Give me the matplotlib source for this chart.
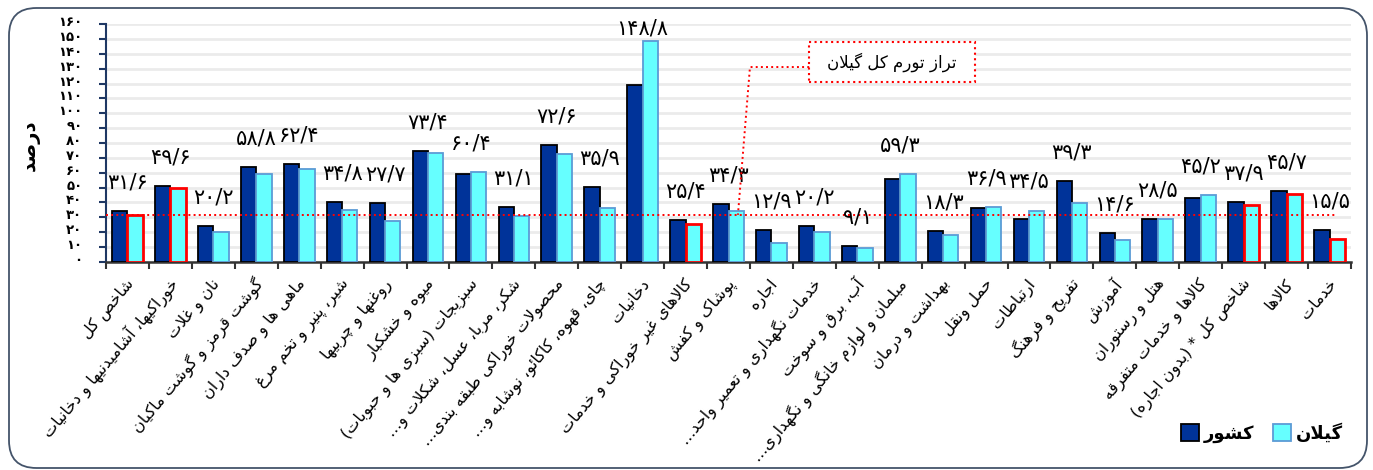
import matplotlib
matplotlib.use('Agg')
import matplotlib.pyplot as plt
import matplotlib.transforms as mtransforms
from matplotlib.patches import FancyBboxPatch, Patch, Rectangle
import numpy as np

# ---------------- data ----------------
categories = [
    'شاخص کل',
    'خوراکیها، آشامیدنیها و دخانیات',
    'نان و غلات',
    'گوشت قرمز و گوشت ماکیان',
    'ماهی ها و صدف داران',
    'شیر، پنیر و تخم مرغ',
    'روغنها و چربیها',
    'میوه و خشکبار',
    'سبزیجات (سبزی ها و حبوبات)',
    'شکر، مربا، عسل، شکلات و...',
    'محصولات خوراکی طبقه بندی...',
    'چای، قهوه، کاکائو، نوشابه و...',
    'دخانیات',
    'کالاهای غیر خوراکی و خدمات',
    'پوشاک و کفش',
    'اجاره',
    'خدمات نگهداری و تعمیر واحد...',
    'آب، برق و سوخت',
    'مبلمان و لوازم خانگی و نگهداری...',
    'بهداشت و درمان',
    'حمل ونقل',
    'ارتباطات',
    'تفریح و فرهنگ',
    'آموزش',
    'هتل و رستوران',
    'کالاها و خدمات متفرقه',
    'شاخص کل * (بدون اجاره)',
    'کالاها',
    'خدمات',
]
country = [34.4, 51.2, 23.8, 63.8, 65.8, 40.0, 39.3, 74.8, 59.3, 36.9, 78.6, 50.1,
           118.9, 27.9, 38.7, 21.4, 23.8, 10.8, 55.7, 20.9, 36.2, 29.0, 54.4, 19.3,
           29.0, 42.9, 40.4, 47.4, 21.4]
gilan = [31.6, 49.6, 20.2, 58.8, 62.4, 34.8, 27.7, 73.4, 60.4, 31.1, 72.6, 35.9,
         148.8, 25.4, 34.3, 12.9, 20.2, 9.1, 59.3, 18.3, 36.9, 34.5, 39.3, 14.6,
         28.5, 45.2, 37.9, 45.7, 15.5]
highlighted = [True, True, False, False, False, False, False, False, False, False,
               False, False, False, True, False, False, False, False, False, False,
               False, False, False, False, False, False, True, True, True]
gilan_total = 31.6
y_ticks = list(range(0, 161, 10))
series_names = ['کشور', 'گیلان']
ylabel_text = 'درصد'
annotation_text = 'تراز تورم کل گیلان'

# ---------------- Persian text helpers ----------------
F = {
    'ء': (0xFE80, None, None, None),
    'آ': (0xFE81, 0xFE82, None, None),
    'أ': (0xFE83, 0xFE84, None, None),
    'ؤ': (0xFE85, 0xFE86, None, None),
    'إ': (0xFE87, 0xFE88, None, None),
    'ئ': (0xFE89, 0xFE8A, 0xFE8B, 0xFE8C),
    'ا': (0xFE8D, 0xFE8E, None, None),
    'ب': (0xFE8F, 0xFE90, 0xFE91, 0xFE92),
    'ة': (0xFE93, 0xFE94, None, None),
    'ت': (0xFE95, 0xFE96, 0xFE97, 0xFE98),
    'ث': (0xFE99, 0xFE9A, 0xFE9B, 0xFE9C),
    'ج': (0xFE9D, 0xFE9E, 0xFE9F, 0xFEA0),
    'ح': (0xFEA1, 0xFEA2, 0xFEA3, 0xFEA4),
    'خ': (0xFEA5, 0xFEA6, 0xFEA7, 0xFEA8),
    'د': (0xFEA9, 0xFEAA, None, None),
    'ذ': (0xFEAB, 0xFEAC, None, None),
    'ر': (0xFEAD, 0xFEAE, None, None),
    'ز': (0xFEAF, 0xFEB0, None, None),
    'س': (0xFEB1, 0xFEB2, 0xFEB3, 0xFEB4),
    'ش': (0xFEB5, 0xFEB6, 0xFEB7, 0xFEB8),
    'ص': (0xFEB9, 0xFEBA, 0xFEBB, 0xFEBC),
    'ض': (0xFEBD, 0xFEBE, 0xFEBF, 0xFEC0),
    'ط': (0xFEC1, 0xFEC2, 0xFEC3, 0xFEC4),
    'ظ': (0xFEC5, 0xFEC6, 0xFEC7, 0xFEC8),
    'ع': (0xFEC9, 0xFECA, 0xFECB, 0xFECC),
    'غ': (0xFECD, 0xFECE, 0xFECF, 0xFED0),
    'ف': (0xFED1, 0xFED2, 0xFED3, 0xFED4),
    'ق': (0xFED5, 0xFED6, 0xFED7, 0xFED8),
    'ك': (0xFED9, 0xFEDA, 0xFEDB, 0xFEDC),
    'ل': (0xFEDD, 0xFEDE, 0xFEDF, 0xFEE0),
    'م': (0xFEE1, 0xFEE2, 0xFEE3, 0xFEE4),
    'ن': (0xFEE5, 0xFEE6, 0xFEE7, 0xFEE8),
    'ه': (0xFEE9, 0xFEEA, 0xFEEB, 0xFEEC),
    'و': (0xFEED, 0xFEEE, None, None),
    'ى': (0xFEEF, 0xFEF0, None, None),
    'ي': (0xFEF1, 0xFEF2, 0xFEF3, 0xFEF4),
    'پ': (0xFB56, 0xFB57, 0xFB58, 0xFB59),
    'چ': (0xFB7A, 0xFB7B, 0xFB7C, 0xFB7D),
    'ژ': (0xFB8A, 0xFB8B, None, None),
    'ک': (0xFB8E, 0xFB8F, 0xFB90, 0xFB91),
    'گ': (0xFB92, 0xFB93, 0xFB94, 0xFB95),
    'ی': (0xFBFC, 0xFBFD, 0xFBFE, 0xFBFF),
}
LAMALEF = {'ا': (0xFEFB, 0xFEFC), 'آ': (0xFEF5, 0xFEF6),
           'أ': (0xFEF7, 0xFEF8), 'إ': (0xFEF9, 0xFEFA)}


def _dual(c):
    return c in F and F[c][2] is not None


def _joinable(c):
    return c in F and F[c][1] is not None


def shape(text):
    chars = list(text)
    n = len(chars)
    out = []
    i = 0
    while i < n:
        c = chars[i]
        if c == '\u200c':
            i += 1
            continue
        prev = chars[i - 1] if i > 0 else ''
        if c == 'ل' and i + 1 < n and chars[i + 1] in LAMALEF:
            lig = LAMALEF[chars[i + 1]]
            out.append(chr(lig[1] if _dual(prev) else lig[0]))
            i += 2
            continue
        if c not in F:
            out.append(c)
            i += 1
            continue
        nxt = chars[i + 1] if i + 1 < n else ''
        link_prev = _dual(prev) and _joinable(c)
        link_next = _dual(c) and _joinable(nxt)
        iso, fin, ini, med = F[c]
        if link_prev and link_next:
            g = med
        elif link_prev:
            g = fin
        elif link_next:
            g = ini
        else:
            g = iso
        out.append(chr(g))
        i += 1
    return ''.join(out)


MIRROR = {'(': ')', ')': '('}


def rtl(text):
    s = shape(text)[::-1]
    return ''.join(MIRROR.get(ch, ch) for ch in s)


FA_DIGITS = str.maketrans('0123456789.', '۰۱۲۳۴۵۶۷۸۹/')


def fa_num(v, fmt='{:.1f}'):
    return fmt.format(v).translate(FA_DIGITS)


# ---------------- figure ----------------
plt.rcParams['font.family'] = ['DejaVu Sans']
W, H = 1373, 470
fig = plt.figure(figsize=(W / 100, H / 100), dpi=100)

# rounded outer border
border = FancyBboxPatch((9 / W, 2 / H), (1367 - 9) / W, (462 - 2) / H,
                        boxstyle='round,pad=0,rounding_size=0.02',
                        mutation_aspect=W / H, transform=fig.transFigure,
                        facecolor='none', edgecolor='#44546a', linewidth=1.3,
                        zorder=-1)
fig.patches.append(border)

ax = fig.add_axes([106 / W, 1 - 261.7 / H, (1351 - 106) / W, (261.7 - 24.3) / H])
ax.set_facecolor('none')

x = np.arange(len(categories))
w = 0.357
dark = '#003399'
cyan = '#66FFFF'
cyan_edge = '#5B9BD5'

ax.bar(x - w / 2, country, width=w, color=dark, edgecolor='black', linewidth=1.3, zorder=3)
edge_cols = ['red' if h else cyan_edge for h in highlighted]
edge_w = [2.0 if h else 1.3 for h in highlighted]
ax.bar(x + w / 2, gilan, width=w, color=cyan, edgecolor=edge_cols, linewidth=edge_w, zorder=3)

# value labels (Gilan values)
for xi, c, g in zip(x, country, gilan):
    y = min(max(c, g) + 12.5, 150.5)
    ax.text(xi, y, fa_num(g), ha='center', va='bottom', fontsize=15, color='black', zorder=5)

# reference line
ax.axhline(gilan_total, xmin=0, xmax=0.987, color='red', linestyle=':', linewidth=1.4, zorder=4)

# annotation box + connector
ax.add_patch(Rectangle((15.88, 121), 3.86, 27, facecolor='white', edgecolor='red',
                       linestyle=':', linewidth=1.5, zorder=6))
ax.text(17.81, 134.6, rtl(annotation_text), ha='center', va='center', fontsize=12, zorder=7)
ax.plot([15.88, 14.5, 14.22], [131.2, 131.2, gilan_total], linestyle=':', color='red',
        linewidth=1.4, zorder=6)

# axes styling
ax.set_xlim(-0.5, len(categories) - 0.5)
ax.set_ylim(0, 160)
ax.set_yticks(y_ticks)
ax.set_yticklabels([fa_num(t, '{:d}') for t in y_ticks], fontsize=9.5, color='black',
                   fontweight='bold')
ax.yaxis.grid(True, color='#ebebeb', linewidth=2)
ax.set_axisbelow(True)
ax.tick_params(axis='y', length=5, width=1.5, color='#1f3864', pad=12, direction='out')
for lab in ax.get_yticklabels():
    lab.set_transform(lab.get_transform() + mtransforms.ScaledTranslation(0, 0.03, fig.dpi_scale_trans))

ax.set_xticks(x)
ax.set_xticklabels([rtl(c) for c in categories], rotation=50, ha='right', va='center',
                   rotation_mode='anchor', fontsize=11.5)
ax.set_xticks(np.arange(-0.5, len(categories)), minor=True)
ax.tick_params(axis='x', which='major', length=0, pad=14)
ax.tick_params(axis='x', which='minor', length=5, width=1.5, color='#333333', direction='out')
for lab in ax.get_xticklabels():
    lab.set_transform(lab.get_transform() + mtransforms.ScaledTranslation(0.04, 0, fig.dpi_scale_trans))

for s in ['top', 'right']:
    ax.spines[s].set_visible(False)
ax.spines['left'].set_color('#1f3864')
ax.spines['left'].set_linewidth(1.5)
ax.spines['bottom'].set_color('#333333')
ax.spines['bottom'].set_linewidth(1.8)

fig.text(30 / W, 1 - 145 / H, rtl(ylabel_text), rotation=90, ha='center', va='center',
         fontsize=14, fontweight='bold')

handles = [Patch(facecolor=dark, edgecolor='black', linewidth=1.3),
           Patch(facecolor=cyan, edgecolor=cyan_edge, linewidth=1.3)]
fig.legend(handles, [rtl(s) for s in series_names], loc='center',
           bbox_to_anchor=(1262 / W, 1 - 433 / H), ncol=2, frameon=False,
           prop={'weight': 'bold', 'size': 13}, handlelength=1.0, handleheight=1.0,
           handletextpad=0.3, columnspacing=1.0)

fig.savefig('out.png', dpi=100)
